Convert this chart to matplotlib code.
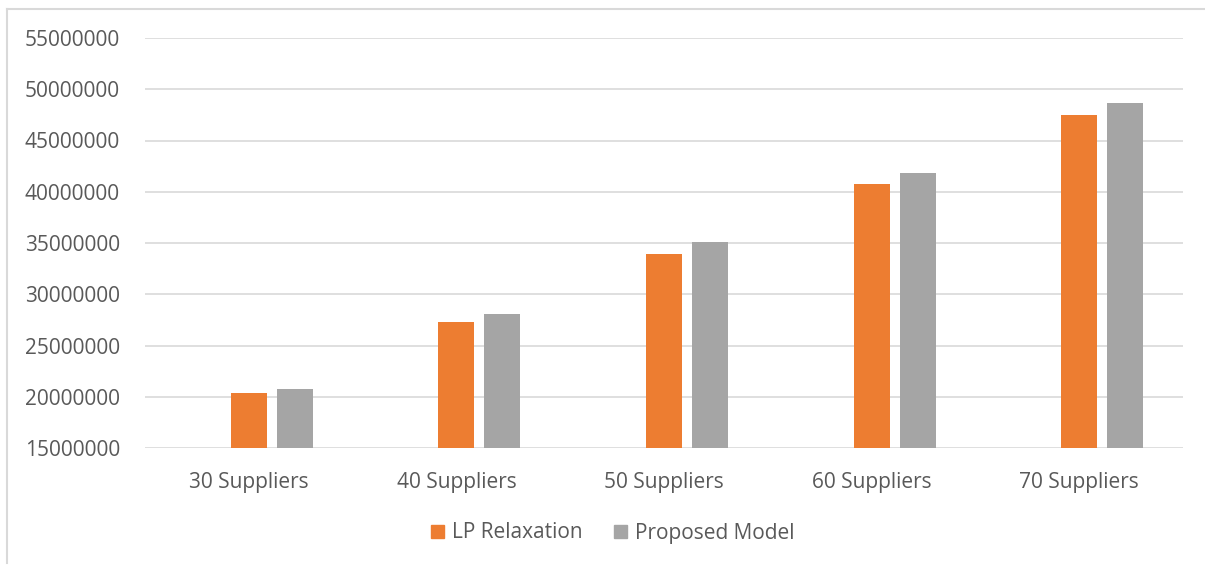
import numpy as np
import matplotlib.pyplot as plt
from matplotlib.patches import Patch
from matplotlib.lines import Line2D

plt.rcParams['font.family'] = ['Open Sans', 'DejaVu Sans']

# data
categories = ["30 Suppliers", "40 Suppliers", "50 Suppliers", "60 Suppliers", "70 Suppliers"]
lp_relax = [20390000, 27250000, 33950000, 40780000, 47450000]
proposed = [20780000, 28040000, 35050000, 41860000, 48650000]

W, H = 1205, 565
fig = plt.figure(figsize=(W / 100, H / 100), dpi=100)

# plot area in pixels: left 145, right 1183, top 38, bottom 448
ax = fig.add_axes([145 / W, 1 - 448 / H, (1183 - 145) / W, (448 - 38) / H])

txt = "#595959"
x = np.arange(len(categories))
step = 46 / 207.6
bw = 36 / 207.6
# the group holds three slots, the first one is empty
ax.bar(x, lp_relax, bw, color="#ED7D31", label="LP Relaxation", zorder=3)
ax.bar(x + step, proposed, bw, color="#A5A5A5", label="Proposed Model", zorder=3)

ax.set_xlim(-0.5, len(categories) - 0.5)
ax.set_ylim(15000000, 55000000)
ax.set_yticks(np.arange(15000000, 55000001, 5000000))
ax.yaxis.set_major_formatter(plt.FuncFormatter(lambda v, p: f"{int(v)}"))
ax.set_xticks(x)
ax.set_xticklabels(categories)

ax.grid(axis="y", color="#D9D9D9", linewidth=1.2, zorder=0)
for s in ax.spines.values():
    s.set_visible(False)
ax.tick_params(axis="both", length=0, labelsize=15, colors=txt)
ax.tick_params(axis="y", pad=18)
ax.tick_params(axis="x", pad=17)

# chart border (top and left only visible)
fig.add_artist(Line2D([7 / W, 7 / W], [1 - 9 / H, 0.003], color="#D9D9D9", lw=1.5))
fig.add_artist(Line2D([7 / W, 1], [1 - 9 / H, 1 - 9 / H], color="#D9D9D9", lw=1.5))

handles = [Patch(color="#ED7D31"), Patch(color="#A5A5A5")]
fig.legend(handles, ["LP Relaxation", "Proposed Model"],
           loc="center", bbox_to_anchor=(613 / W, 1 - 533 / H),
           ncol=2, frameon=False, fontsize=15, labelcolor=txt,
           handlelength=0.6, handleheight=0.6, handletextpad=0.4,
           columnspacing=1.5)

fig.savefig("out.png", dpi=100)
